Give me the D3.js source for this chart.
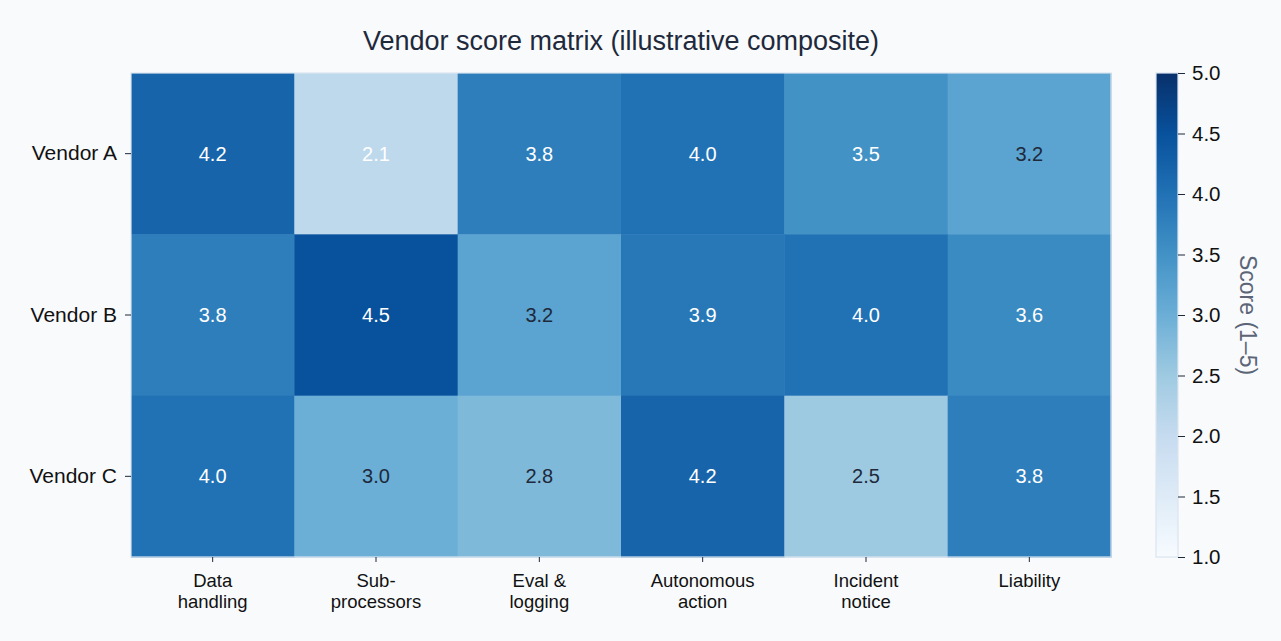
<!DOCTYPE html>
<html>
<head>
<meta charset="utf-8">
<script src="https://cdn.jsdelivr.net/npm/d3@7"></script>
<style>
  body { margin: 0; background: #f8fafc; }
  svg { display: block; font-family: "Liberation Sans", Arial, sans-serif; }
</style>
</head>
<body>
<div id="chart"></div>
<script>
// data
const vendors = ['Vendor A', 'Vendor B', 'Vendor C'];
const criteria = [['Data', 'handling'], ['Sub-', 'processors'], ['Eval &', 'logging'],
  ['Autonomous', 'action'], ['Incident', 'notice'], ['Liability']];
const scoresA = [4.2, 2.1, 3.8, 4.0, 3.5, 3.2];
const scoresB = [3.8, 4.5, 3.2, 3.9, 4.0, 3.6];
const scoresC = [4.0, 3.0, 2.8, 4.2, 2.5, 3.8];
const scoreRows = [scoresA, scoresB, scoresC];
const colorbarTicks = [1.0, 1.5, 2.0, 2.5, 3.0, 3.5, 4.0, 4.5, 5.0];

const W = 1281, H = 641;
const m = {left: 131, right: 1111, top: 73, bottom: 557};

const svg = d3.select('#chart').append('svg').attr('width', W).attr('height', H);
svg.append('rect').attr('width', W).attr('height', H).attr('fill', '#f8fafc');

//matplotlib style Blues
const bluesStops = ['#f7fbff', '#deebf7', '#c6dbef', '#9ecae1', '#6baed6', '#4292c6', '#2171b5', '#08519c', '#08306b'];
const color = d3.scaleLinear()
  .domain(d3.range(9).map(i => 1 + i * 4 / 8))
  .range(bluesStops)
  .interpolate(d3.interpolateRgb)
  .clamp(true);

const x = d3.scaleBand().domain(d3.range(criteria.length)).range([m.left, m.right]);
const y = d3.scaleBand().domain(vendors).range([m.top, m.bottom]);

const cells = [];
scoreRows.forEach((row, r) => row.forEach((v, c) => cells.push({vendor: vendors[r], col: c, v})));

svg.append('g').selectAll('rect').data(cells).join('rect')
  .attr('x', d => x(d.col)).attr('y', d => y(d.vendor))
  .attr('width', x.bandwidth() + 0.5).attr('height', y.bandwidth() + 0.5)
  .attr('fill', d => color(d.v));

svg.append('g').selectAll('text').data(cells).join('text')
  .attr('x', d => x(d.col) + x.bandwidth() / 2)
  .attr('y', d => y(d.vendor) + y.bandwidth() / 2)
  .attr('dy', '0.35em')
  .attr('text-anchor', 'middle')
  .attr('font-size', 20)
  .attr('fill', d => (d.v >= 3.5 || d.v < 2.2) ? '#ffffff' : '#1e293b')
  .text(d => d.v.toFixed(1));

svg.append('rect')
  .attr('x', m.left).attr('y', m.top)
  .attr('width', m.right - m.left).attr('height', m.bottom - m.top)
  .attr('fill', 'none').attr('stroke', '#dbe4ef').attr('stroke-width', 1.2);

//y axis
const yAxis = svg.append('g').attr('transform', `translate(${m.left},0)`)
  .call(d3.axisLeft(y).tickSize(6).tickPadding(8));
yAxis.select('.domain').remove();
yAxis.selectAll('line').attr('stroke', '#1e293b');
yAxis.selectAll('text').attr('font-size', 21).attr('fill', '#111111')
  .attr('font-family', '"Liberation Sans", Arial, sans-serif');

//x axis
const xAxis = svg.append('g').attr('transform', `translate(0,${m.bottom})`)
  .call(d3.axisBottom(x).tickSize(5).tickFormat(''));
xAxis.select('.domain').remove();
xAxis.selectAll('line').attr('stroke', '#1e293b');
xAxis.selectAll('.tick').each(function(d) {
  const t = d3.select(this).append('text')
    .attr('text-anchor', 'middle').attr('font-size', 18.5).attr('fill', '#111111')
    .attr('y', 30);
  criteria[d].forEach((line, i) => {
    t.append('tspan').attr('x', 0).attr('dy', i === 0 ? 0 : 21).text(line);
  });
});

//colorbar
const cb = {x: 1156, w: 22};
const cy = d3.scaleLinear().domain([1, 5]).range([m.bottom, m.top]);
const grad = svg.append('defs').append('linearGradient')
  .attr('id', 'cbgrad').attr('x1', 0).attr('y1', 1).attr('x2', 0).attr('y2', 0);
bluesStops.forEach((c, i) => grad.append('stop').attr('offset', i / 8).attr('stop-color', c));
svg.append('rect')
  .attr('x', cb.x).attr('y', m.top).attr('width', cb.w).attr('height', m.bottom - m.top)
  .attr('fill', 'url(#cbgrad)').attr('stroke', '#dbe4ef').attr('stroke-width', 1.2);
const cAxis = svg.append('g').attr('transform', `translate(${cb.x + cb.w},0)`)
  .call(d3.axisRight(cy).tickValues(colorbarTicks).tickFormat(d3.format('.1f')).tickSize(7).tickPadding(7));
cAxis.select('.domain').remove();
cAxis.selectAll('line').attr('stroke', '#1e293b');
cAxis.selectAll('text').attr('font-size', 20.5).attr('fill', '#111111')
  .attr('font-family', '"Liberation Sans", Arial, sans-serif');

svg.append('text')
  .attr('transform', `translate(1240,${(m.top + m.bottom) / 2}) rotate(90)`)
  .attr('text-anchor', 'middle').attr('font-size', 23).attr('fill', '#5b6577')
  .text('Score (1–5)');

//title
svg.append('text')
  .attr('x', 621).attr('y', 50)
  .attr('text-anchor', 'middle').attr('font-size', 27).attr('fill', '#1e293b')
  .text('Vendor score matrix (illustrative composite)');
</script>
</body>
</html>
